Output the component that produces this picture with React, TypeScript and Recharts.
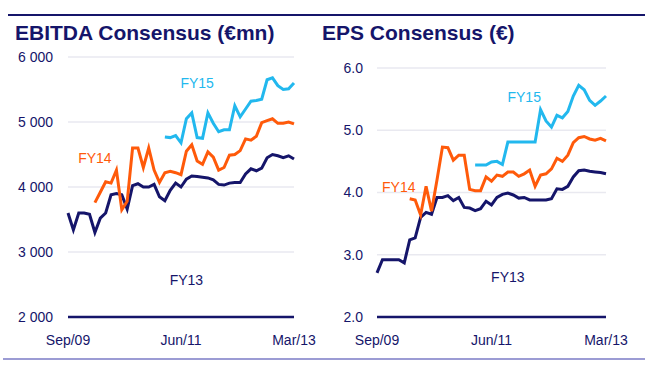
import React from "react";
import { LineChart, Line, XAxis, YAxis, CartesianGrid, ReferenceDot } from "recharts";

// month categories, Sep/09 .. Mar/13
const monthNames = ["Jan", "Feb", "Mar", "Apr", "May", "Jun", "Jul", "Aug", "Sep", "Oct", "Nov", "Dec"];
const months: string[] = [];
for (let i = 0; i < 43; i++) {
  const m = (8 + i) % 12;
  const y = 9 + Math.floor((8 + i) / 12);
  months.push(`${monthNames[m]}/${String(y).padStart(2, "0")}`);
}
const xTicks = ["Sep/09", "Jun/11", "Mar/13"];

const ebitdaFY13 = [
  3600, 3340, 3600, 3600, 3580, 3300, 3520, 3600, 3880, 3900, 3880, 3660, 4020, 4050, 4000,
  4000, 4040, 3850, 3790, 3950, 4060, 4000, 4120, 4170, 4160, 4150, 4140, 4110, 4040, 4030,
  4060, 4070, 4070, 4200, 4280, 4250, 4290, 4450, 4500, 4480, 4450, 4480, 4430,
];
const ebitdaFY14 = [
  null, null, null, null, null, 3760, 3920, 4080, 4060, 4260, 3650, 3780, 4600, 4600, 4300,
  4600, 4260, 4070, 4220, 4240, 4220, 4190, 4550, 4650, 4400, 4350, 4540, 4460, 4260, 4300,
  4490, 4500, 4560, 4740, 4720, 4780, 4990, 5020, 5050, 4980, 4980, 5000, 4970,
];
const ebitdaFY15 = [
  null, null, null, null, null, null, null, null, null, null, null, null, null, null, null,
  null, null, null, 4770, 4760, 4790, 4680, 5050, 5140, 4760, 4750, 5140, 4980, 4850, 4880,
  4880, 5250, 5080, 5200, 5320, 5330, 5350, 5650, 5680, 5560, 5500, 5510, 5600,
];

const epsFY13 = [
  2.71, 2.92, 2.92, 2.92, 2.92, 2.87, 3.24, 3.27, 3.6, 3.68, 3.65, 3.92, 3.92, 3.95, 3.87,
  3.92, 3.76, 3.75, 3.71, 3.74, 3.86, 3.8, 3.92, 3.97, 3.99, 3.96, 3.91, 3.92, 3.88, 3.88,
  3.88, 3.88, 3.9, 4.06, 4.05, 4.1, 4.25, 4.35, 4.36, 4.34, 4.33, 4.32, 4.3,
];
const epsFY14 = [
  null, null, null, null, null, null, 3.9, 3.88, 3.64, 4.1, 3.7, 4.2, 4.73, 4.72, 4.52,
  4.6, 4.6, 4.05, 4.03, 4.03, 4.25, 4.18, 4.28, 4.26, 4.33, 4.33, 4.26, 4.3, 4.36, 4.1,
  4.28, 4.3, 4.38, 4.55, 4.5, 4.6, 4.8, 4.88, 4.9, 4.86, 4.84, 4.87, 4.83,
];
const epsFY15 = [
  null, null, null, null, null, null, null, null, null, null, null, null, null, null, null,
  null, null, null, 4.44, 4.44, 4.44, 4.49, 4.5, 4.45, 4.81, 4.81, 4.81, 4.81, 4.81, 4.81,
  5.33, 5.15, 5.05, 5.24, 5.2, 5.3, 5.55, 5.72, 5.65, 5.48, 5.4, 5.47, 5.55,
];

const ebitdaTicks = [2000, 3000, 4000, 5000, 6000];
const epsTicks = [2, 3, 4, 5, 6];

const ebitdaData = months.map((m, i) => ({ m, fy13: ebitdaFY13[i], fy14: ebitdaFY14[i], fy15: ebitdaFY15[i] }));
const epsData = months.map((m, i) => ({ m, fy13: epsFY13[i], fy14: epsFY14[i], fy15: epsFY15[i] }));

const NAVY = "#15156a";
const ORANGE = "#ff5a0a";
const CYAN = "#22b8ee";
const FONT = "'Liberation Sans', Arial, sans-serif";

const tickStyle = { fill: NAVY, fontSize: 14, fontFamily: FONT };

function seriesLabel(text: string, color: string) {
  return { value: text, position: "center" as const, fill: color, fontSize: 14, fontFamily: FONT };
}

interface PanelProps {
  data: any[];
  ticks: number[];
  fmt: (v: number) => string;
  width: number;
  margin: { top: number; right: number; bottom: number; left: number };
  yWidth: number;
  yGap: number;
  labels: { x: string; y: number; text: string; color: string }[];
}

function Panel({ data, ticks, fmt, width, margin, yWidth, yGap, labels }: PanelProps) {
  return (
    <LineChart width={width} height={369} data={data} margin={margin}>
      <CartesianGrid vertical={false} stroke="#e9e9f0" strokeWidth={1.5} />
      <XAxis
        dataKey="m"
        ticks={xTicks}
        interval={0}
        height={30}
        tickLine={false}
        tickSize={0}
        tickMargin={18}
        axisLine={{ stroke: NAVY, strokeWidth: 2.5 }}
        tick={tickStyle}
      />
      <YAxis
        width={yWidth}
        domain={[ticks[0], ticks[ticks.length - 1]]}
        ticks={ticks}
        tickFormatter={fmt}
        axisLine={false}
        tickLine={false}
        tickSize={0}
        tickMargin={yGap}
        tick={tickStyle}
      />
      <Line dataKey="fy13" stroke={NAVY} strokeWidth={3} dot={false} isAnimationActive={false} connectNulls={false} />
      <Line dataKey="fy14" stroke={ORANGE} strokeWidth={3} dot={false} isAnimationActive={false} connectNulls={false} />
      <Line dataKey="fy15" stroke={CYAN} strokeWidth={3} dot={false} isAnimationActive={false} connectNulls={false} />
      {labels.map((l) => (
        <ReferenceDot key={l.text} x={l.x} y={l.y} r={0} stroke="none" fill="none" label={seriesLabel(l.text, l.color)} />
      ))}
    </LineChart>
  );
}

const titleStyle: React.CSSProperties = {
  position: "absolute",
  top: 21,
  fontFamily: FONT,
  fontWeight: "bold",
  fontSize: 21,
  lineHeight: "23px",
  color: NAVY,
  whiteSpace: "nowrap",
};

export default function App() {
  return (
    <div style={{ position: "absolute", left: 0, top: 0, width: 650, height: 369, background: "#fff", overflow: "hidden" }}>
      <div style={{ position: "absolute", left: 8, top: 14, width: 637, height: 2, background: NAVY }} />
      <div style={{ position: "absolute", left: 3, top: 358, width: 642, height: 1.5, background: "#9c9cd4" }} />
      <div style={{ ...titleStyle, left: 15 }}>EBITDA Consensus (€mn)</div>
      <div style={{ ...titleStyle, left: 322 }}>EPS Consensus (€)</div>
      <div style={{ position: "absolute", left: 0, top: 0 }}>
        <Panel
          data={ebitdaData}
          ticks={ebitdaTicks}
          fmt={(v) => `${Math.floor(v / 1000)} 000`}
          width={320}
          margin={{ top: 57, right: 26, bottom: 22, left: 0 }}
          yWidth={68}
          yGap={15}
          labels={[
            { x: months[24], y: 5600, text: "FY15", color: CYAN },
            { x: months[5], y: 4450, text: "FY14", color: ORANGE },
            { x: months[22], y: 2570, text: "FY13", color: NAVY },
          ]}
        />
      </div>
      <div style={{ position: "absolute", left: 320, top: 0 }}>
        <Panel
          data={epsData}
          ticks={epsTicks}
          fmt={(v) => v.toFixed(1)}
          width={330}
          margin={{ top: 68, right: 44, bottom: 22, left: 0 }}
          yWidth={57}
          yGap={14}
          labels={[
            { x: months[27], y: 5.53, text: "FY15", color: CYAN },
            { x: months[4], y: 4.09, text: "FY14", color: ORANGE },
            { x: months[24], y: 2.64, text: "FY13", color: NAVY },
          ]}
        />
      </div>
    </div>
  );
}
